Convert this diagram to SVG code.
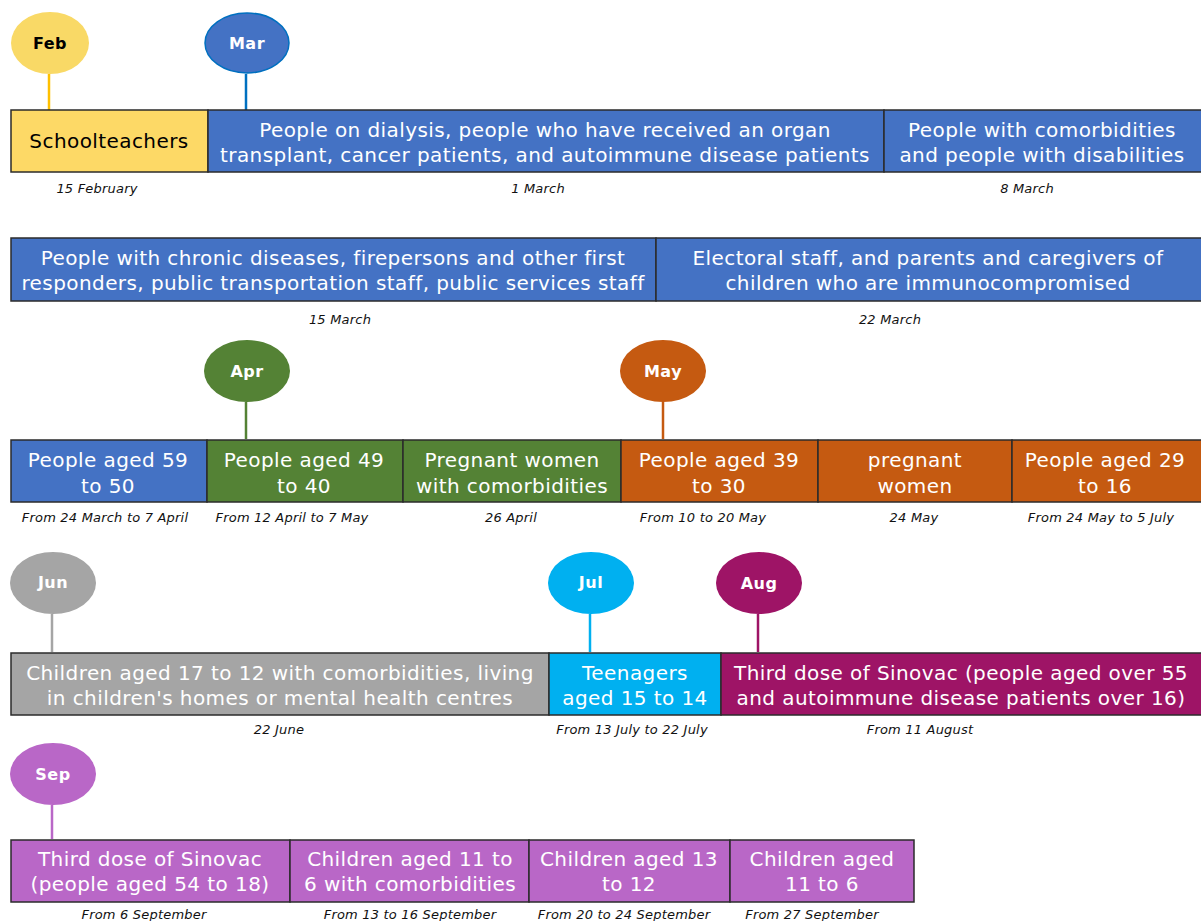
<svg xmlns="http://www.w3.org/2000/svg" width="1201" height="921" viewBox="0 0 1201 921">
<style>
.box{stroke:#2b2b2b;stroke-width:1.5}
.t{font-family:"DejaVu Sans",Verdana,sans-serif;font-size:20px;letter-spacing:0.42px;fill:#fff;text-anchor:middle}
.d{font-family:"DejaVu Sans",Verdana,sans-serif;font-size:13px;letter-spacing:0.2px;font-style:italic;fill:#111;text-anchor:middle}
.m{font-family:"DejaVu Sans",Verdana,sans-serif;font-size:16px;letter-spacing:0.5px;font-weight:bold;fill:#fff;text-anchor:middle}
.ln{stroke-width:2.5}
</style>
<rect width="1201" height="921" fill="#fff"/>
<g id="connectors">
<line class="ln" x1="49" y1="74" x2="49" y2="110" stroke="#FFC000"/>
<line class="ln" x1="246" y1="74" x2="246" y2="110" stroke="#0070C0"/>
<line class="ln" x1="246" y1="402" x2="246" y2="439" stroke="#548235"/>
<line class="ln" x1="663" y1="402" x2="663" y2="439" stroke="#C55A11"/>
<line class="ln" x1="52" y1="614" x2="52" y2="652" stroke="#A5A5A5"/>
<line class="ln" x1="590" y1="614" x2="590" y2="652" stroke="#00B0F0"/>
<line class="ln" x1="758" y1="614" x2="758" y2="652" stroke="#9E1466"/>
<line class="ln" x1="52" y1="805" x2="52" y2="839" stroke="#B967C7"/>
</g>
<g id="month-feb"><ellipse cx="50" cy="43" rx="39" ry="31" fill="#F9D966"/><text class="m" x="50" y="49" style="fill:#000">Feb</text></g>
<g id="month-mar"><ellipse cx="247" cy="43" rx="42" ry="30" fill="#4472C4" stroke="#0070C0" stroke-width="1.5"/><text class="m" x="247" y="49">Mar</text></g>
<g id="month-apr"><ellipse cx="247" cy="371" rx="43" ry="31" fill="#548235"/><text class="m" x="247" y="377">Apr</text></g>
<g id="month-may"><ellipse cx="663" cy="371" rx="43" ry="31" fill="#C55A11"/><text class="m" x="663" y="377">May</text></g>
<g id="month-jun"><ellipse cx="53" cy="583" rx="43" ry="31" fill="#A5A5A5"/><text class="m" x="53" y="588">Jun</text></g>
<g id="month-jul"><ellipse cx="591" cy="583" rx="43" ry="31" fill="#00B0F0"/><text class="m" x="591" y="588">Jul</text></g>
<g id="month-aug"><ellipse cx="759" cy="583" rx="43" ry="31" fill="#9E1466"/><text class="m" x="759" y="589">Aug</text></g>
<g id="month-sep"><ellipse cx="53" cy="774" rx="43" ry="31" fill="#B967C7"/><text class="m" x="53" y="780">Sep</text></g>

<g id="n-schoolteachers"><rect class="box" x="11" y="110" width="197" height="62" fill="#FDD966"/><text class="t" x="109" y="148" style="fill:#000">Schoolteachers</text><text class="d" x="97" y="193">15 February</text></g>
<g id="n-dialysis"><rect class="box" x="208" y="110" width="676" height="62" fill="#4472C4"/><text class="t" x="545" y="137">People on dialysis, people who have received an organ</text><text class="t" x="545" y="162">transplant, cancer patients, and autoimmune disease patients</text><text class="d" x="538" y="193">1 March</text></g>
<g id="n-comorb"><rect class="box" x="884" y="110" width="318" height="62" fill="#4472C4"/><text class="t" x="1042" y="137">People with comorbidities</text><text class="t" x="1042" y="162">and people with disabilities</text><text class="d" x="1027" y="193">8 March</text></g>

<g id="n-chronic"><rect class="box" x="11" y="238" width="645" height="63" fill="#4472C4"/><text class="t" x="333" y="265">People with chronic diseases, firepersons and other first</text><text class="t" x="333" y="290">responders, public transportation staff, public services staff</text><text class="d" x="340" y="324">15 March</text></g>
<g id="n-electoral"><rect class="box" x="656" y="238" width="546" height="63" fill="#4472C4"/><text class="t" x="928" y="265">Electoral staff, and parents and caregivers of</text><text class="t" x="928" y="290">children who are immunocompromised</text><text class="d" x="890" y="324">22 March</text></g>

<g id="n-59-50"><rect class="box" x="11" y="440" width="196" height="62" fill="#4472C4"/><text class="t" x="108" y="467">People aged 59</text><text class="t" x="108" y="493">to 50</text><text class="d" x="105" y="522">From 24 March to 7 April</text></g>
<g id="n-49-40"><rect class="box" x="207" y="440" width="196" height="62" fill="#548235"/><text class="t" x="304" y="467">People aged 49</text><text class="t" x="304" y="493">to 40</text><text class="d" x="292" y="522">From 12 April to 7 May</text></g>
<g id="n-pregnant-comorb"><rect class="box" x="403" y="440" width="218" height="62" fill="#548235"/><text class="t" x="512" y="467">Pregnant women</text><text class="t" x="512" y="493">with comorbidities</text><text class="d" x="511" y="522">26 April</text></g>
<g id="n-39-30"><rect class="box" x="621" y="440" width="197" height="62" fill="#C55A11"/><text class="t" x="719" y="467">People aged 39</text><text class="t" x="719" y="493">to 30</text><text class="d" x="703" y="522">From 10 to 20 May</text></g>
<g id="n-pregnant"><rect class="box" x="818" y="440" width="194" height="62" fill="#C55A11"/><text class="t" x="915" y="467">pregnant</text><text class="t" x="915" y="493">women</text><text class="d" x="914" y="522">24 May</text></g>
<g id="n-29-16"><rect class="box" x="1012" y="440" width="190" height="62" fill="#C55A11"/><text class="t" x="1105" y="467">People aged 29</text><text class="t" x="1105" y="493">to 16</text><text class="d" x="1101" y="522">From 24 May to 5 July</text></g>

<g id="n-children-17-12"><rect class="box" x="11" y="653" width="538" height="62" fill="#A5A5A5"/><text class="t" x="280" y="680">Children aged 17 to 12 with comorbidities, living</text><text class="t" x="280" y="705">in children's homes or mental health centres</text><text class="d" x="279" y="734">22 June</text></g>
<g id="n-teenagers"><rect class="box" x="549" y="653" width="172" height="62" fill="#00B0F0"/><text class="t" x="635" y="680">Teenagers</text><text class="t" x="635" y="705">aged 15 to 14</text><text class="d" x="632" y="734">From 13 July to 22 July</text></g>
<g id="n-third-55"><rect class="box" x="721" y="653" width="481" height="62" fill="#9E1466"/><text class="t" x="961" y="680">Third dose of Sinovac (people aged over 55</text><text class="t" x="961" y="705">and autoimmune disease patients over 16)</text><text class="d" x="920" y="734">From 11 August</text></g>

<g id="n-third-54"><rect class="box" x="11" y="840" width="279" height="62" fill="#B967C7"/><text class="t" x="150" y="866">Third dose of Sinovac</text><text class="t" x="150" y="891">(people aged 54 to 18)</text><text class="d" x="144" y="919">From 6 September</text></g>
<g id="n-11-6-comorb"><rect class="box" x="290" y="840" width="239" height="62" fill="#B967C7"/><text class="t" x="410" y="866">Children aged 11 to</text><text class="t" x="410" y="891">6 with comorbidities</text><text class="d" x="410" y="919">From 13 to 16 September</text></g>
<g id="n-13-12"><rect class="box" x="529" y="840" width="201" height="62" fill="#B967C7"/><text class="t" x="629" y="866">Children aged 13</text><text class="t" x="629" y="891">to 12</text><text class="d" x="624" y="919">From 20 to 24 September</text></g>
<g id="n-11-6"><rect class="box" x="730" y="840" width="184" height="62" fill="#B967C7"/><text class="t" x="822" y="866">Children aged</text><text class="t" x="822" y="891">11 to 6</text><text class="d" x="812" y="919">From 27 September</text></g>
</svg>
